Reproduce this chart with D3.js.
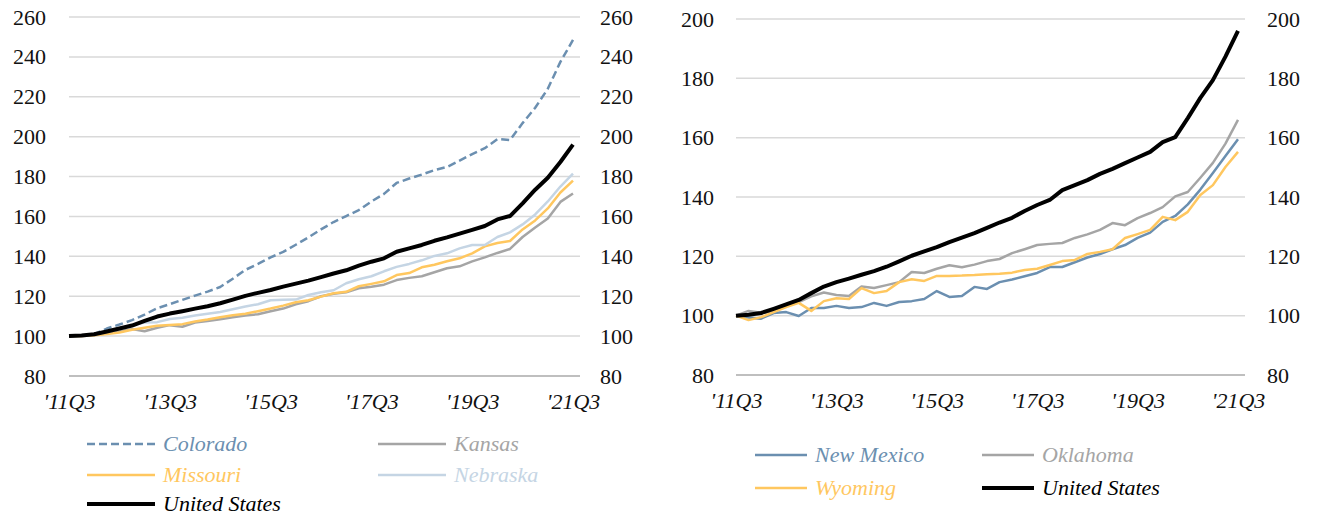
<!DOCTYPE html>
<html>
<head>
<meta charset="utf-8">
<script src="https://cdn.jsdelivr.net/npm/d3@7"></script>
<style>
  body { margin: 0; background: #fff; }
  svg { display: block; }
  .grid line { stroke: #d9d9d9; stroke-width: 1.5; }
  .ytick text { font-size: 22px; fill: #111; }
  .xtick text { font-size: 22px; font-style: italic; fill: #111; }
  .legend text { font-size: 22px; font-style: italic; }
</style>
</head>
<body>
<svg id="chart" width="1319" height="517"></svg>
<script>
// quarters 2011Q3 .. 2021Q3
var quarters = ["11Q3","11Q4","12Q1","12Q2","12Q3","12Q4","13Q1","13Q2","13Q3","13Q4",
  "14Q1","14Q2","14Q3","14Q4","15Q1","15Q2","15Q3","15Q4","16Q1","16Q2",
  "16Q3","16Q4","17Q1","17Q2","17Q3","17Q4","18Q1","18Q2","18Q3","18Q4",
  "19Q1","19Q2","19Q3","19Q4","20Q1","20Q2","20Q3","20Q4","21Q1","21Q2","21Q3"];
var xTickLabels = ["11Q3","13Q3","15Q3","17Q3","19Q3","21Q3"];

// index, 2011Q3 = 100
var unitedStates = [100,100.3,100.9,102.3,103.8,105.3,107.6,109.8,111.3,112.5,
  113.8,115.0,116.5,118.3,120.2,121.7,123.1,124.8,126.3,127.8,
  129.6,131.4,133.0,135.3,137.3,139.0,142.3,144.0,145.7,147.8,
  149.5,151.4,153.3,155.2,158.5,160.2,166.6,173.4,179.4,187.3,196.0];
var colorado = [100,100.3,101,103.8,105.8,108,110.8,114,116,118.2,
  120.3,122.3,124.6,128.8,133.2,136.2,139.5,142.2,145.8,149.5,
  153.5,157.2,160.2,163.2,167.5,171.3,176.8,179.0,181.0,183.2,
  184.8,188.0,191.3,194.2,198.8,198.3,206.8,214.5,224.0,237.5,248.5];
var kansas = [100,100.2,100.6,101.3,102.5,103.5,102.4,104.2,105.5,104.7,
  106.8,107.6,108.5,109.5,110.3,111.0,112.5,113.8,116.0,117.5,
  120.0,121.2,122.0,124.0,124.8,125.8,128.1,129.2,130.0,132.0,
  134.0,135.0,137.5,139.5,141.7,143.7,149.7,154.5,159.0,167.3,171.5];
var missouri = [100,100.1,100.4,101.0,101.8,103.2,104.2,105.2,105.6,106.0,
  107.3,108.3,109.5,110.5,111.2,112.5,113.8,115.3,117.0,118.0,
  119.8,121.5,122.2,125.0,126.2,127.5,130.6,131.6,134.5,135.8,
  137.5,139.0,141.5,145.0,146.7,147.7,153.5,158.0,164.0,172.0,178.0];
var nebraska = [100,100.2,100.8,102.0,103.5,105.5,106.8,107.0,108.6,109.2,
  110.3,111.2,112.1,113.5,114.8,116.0,118.0,118.2,118.3,120.6,
  122.0,123.0,126.5,128.5,130.0,132.5,134.7,136.2,138.0,140.2,
  141.5,144.0,145.7,145.7,149.7,152.0,156.0,161.0,167.5,175.0,181.5];
var newMexico = [100,99.4,99.0,100.9,101.2,99.9,102.6,102.6,103.3,102.6,
  102.9,104.3,103.3,104.6,104.9,105.6,108.3,106.3,106.6,109.7,
  109.0,111.3,112.2,113.3,114.4,116.4,116.4,118.0,119.6,120.8,
  122.4,123.8,126.2,128.0,131.6,133.6,137.5,142.5,148.1,153.8,159.5];
var oklahoma = [100,101.6,101.0,101.3,103.3,104.6,106.5,107.8,107.0,106.6,
  109.8,109.3,110.3,111.3,114.7,114.4,115.8,117.0,116.3,117.2,
  118.4,119.1,121.1,122.4,123.8,124.2,124.5,126.2,127.4,128.9,
  131.2,130.5,132.9,134.6,136.6,140.2,141.7,146.5,151.5,158.0,166.0];
var wyoming = [100,98.5,99.5,101.2,102.9,104.3,101.6,104.9,105.9,105.6,
  109.3,107.6,108.3,111.3,112.3,111.7,113.4,113.4,113.5,113.7,
  114.0,114.1,114.5,115.4,115.8,117.1,118.4,118.8,120.8,121.5,
  122.4,126.2,127.5,128.9,133.3,132.2,135.0,140.7,144.0,150.1,155.2];

var leftTicks = [80,100,120,140,160,180,200,220,240,260];
var rightTicks = [80,100,120,140,160,180,200];

// try the installed serif faces, whichever exists
var serifFont = "Liberation Serif, Tinos, Noto Serif, DejaVu Serif, Times New Roman, Times, FreeSerif, serif";
var svg = d3.select("#chart").style("font-family", serifFont);

// strip d3's default axis font settings so the css ones win
function plain(s) {
  s.attr("font-family", null).attr("font-size", null);
  s.select(".domain").remove();
}

function drawPanel(p) {
  var x = d3.scalePoint().domain(quarters).range([p.x0, p.x1]);
  var y = d3.scaleLinear().domain([p.ticks[0], p.ticks[p.ticks.length-1]]).range([p.yBottom, p.yTop]);
  var g = svg.append("g");

  // gridlines
  g.append("g").attr("class", "grid")
    .selectAll("line").data(p.ticks).enter().append("line")
    .attr("x1", p.x0).attr("x2", p.gridEnd)
    .attr("y1", function(d){ return y(d); })
    .attr("y2", function(d){ return y(d); })
    .style("stroke", function(d, i){ return i == 0 ? "#bfbfbf" : null; })
    .style("stroke-width", function(d, i){ return i == 0 ? 2 : null; });

  // y labels both sides
  g.append("g").attr("class", "ytick")
    .attr("transform", "translate(" + p.leftLabel + ",0)")
    .call(d3.axisLeft(y).tickValues(p.ticks).tickSize(0).tickPadding(0))
    .call(plain);
  g.append("g").attr("class", "ytick")
    .attr("transform", "translate(" + p.rightLabel + ",0)")
    .call(d3.axisRight(y).tickValues(p.ticks).tickSize(0).tickPadding(0))
    .call(plain);

  // x labels
  g.append("g").attr("class", "xtick")
    .attr("transform", "translate(0," + (p.yBottom + 17) + ")")
    .call(d3.axisBottom(x).tickValues(xTickLabels).tickSize(0).tickPadding(0)
      .tickFormat(function(d){ return "'" + d; }))
    .call(plain);

  var line = d3.line()
    .x(function(d, i){ return x(quarters[i]); })
    .y(function(d){ return y(d); });

  p.series.forEach(function(s){
    g.append("path")
      .datum(s.values)
      .attr("fill", "none")
      .attr("stroke", s.color)
      .attr("stroke-width", s.width)
      .attr("stroke-dasharray", s.dash || null)
      .attr("stroke-linejoin", "round")
      .attr("d", line);
  });

  // legend
  var lg = g.append("g").attr("class", "legend");
  p.series.forEach(function(s, i){
    var pos = p.legend[i];
    lg.append("line")
      .attr("x1", pos[0]).attr("x2", pos[0] + p.legendLen)
      .attr("y1", pos[1]).attr("y2", pos[1])
      .attr("stroke", s.color).attr("stroke-width", s.width)
      .attr("stroke-dasharray", s.dash || null);
    lg.append("text")
      .attr("x", pos[0] + p.legendLen + 8).attr("y", pos[1])
      .attr("dy", "0.33em")
      .attr("fill", s.color)
      .text(s.name);
  });
}

// Colorado / Kansas / Missouri / Nebraska
drawPanel({
  x0: 69, x1: 573, gridEnd: 580, yTop: 17, yBottom: 376,
  ticks: leftTicks, leftLabel: 46, rightLabel: 600,
  legendLen: 68,
  legend: [[87,444],[378,444],[87,475],[378,475],[87,504]],
  series: [
    {name: "Colorado", values: colorado, color: "#6b8fb0", width: 2.5, dash: "8,4"},
    {name: "Kansas", values: kansas, color: "#a5a5a5", width: 2.5},
    {name: "Missouri", values: missouri, color: "#ffc75f", width: 2.5},
    {name: "Nebraska", values: nebraska, color: "#c5d5e4", width: 2.5},
    {name: "United States", values: unitedStates, color: "#000000", width: 4}
  ]
});

// New Mexico / Oklahoma / Wyoming
drawPanel({
  x0: 736, x1: 1238, gridEnd: 1245, yTop: 19, yBottom: 375,
  ticks: rightTicks, leftLabel: 714, rightLabel: 1267,
  legendLen: 52,
  legend: [[755,455],[982,455],[755,488],[982,488]],
  series: [
    {name: "New Mexico", values: newMexico, color: "#6b8fb0", width: 2.5},
    {name: "Oklahoma", values: oklahoma, color: "#a5a5a5", width: 2.5},
    {name: "Wyoming", values: wyoming, color: "#ffc75f", width: 2.5},
    {name: "United States", values: unitedStates, color: "#000000", width: 4}
  ]
});
</script>
</body>
</html>
